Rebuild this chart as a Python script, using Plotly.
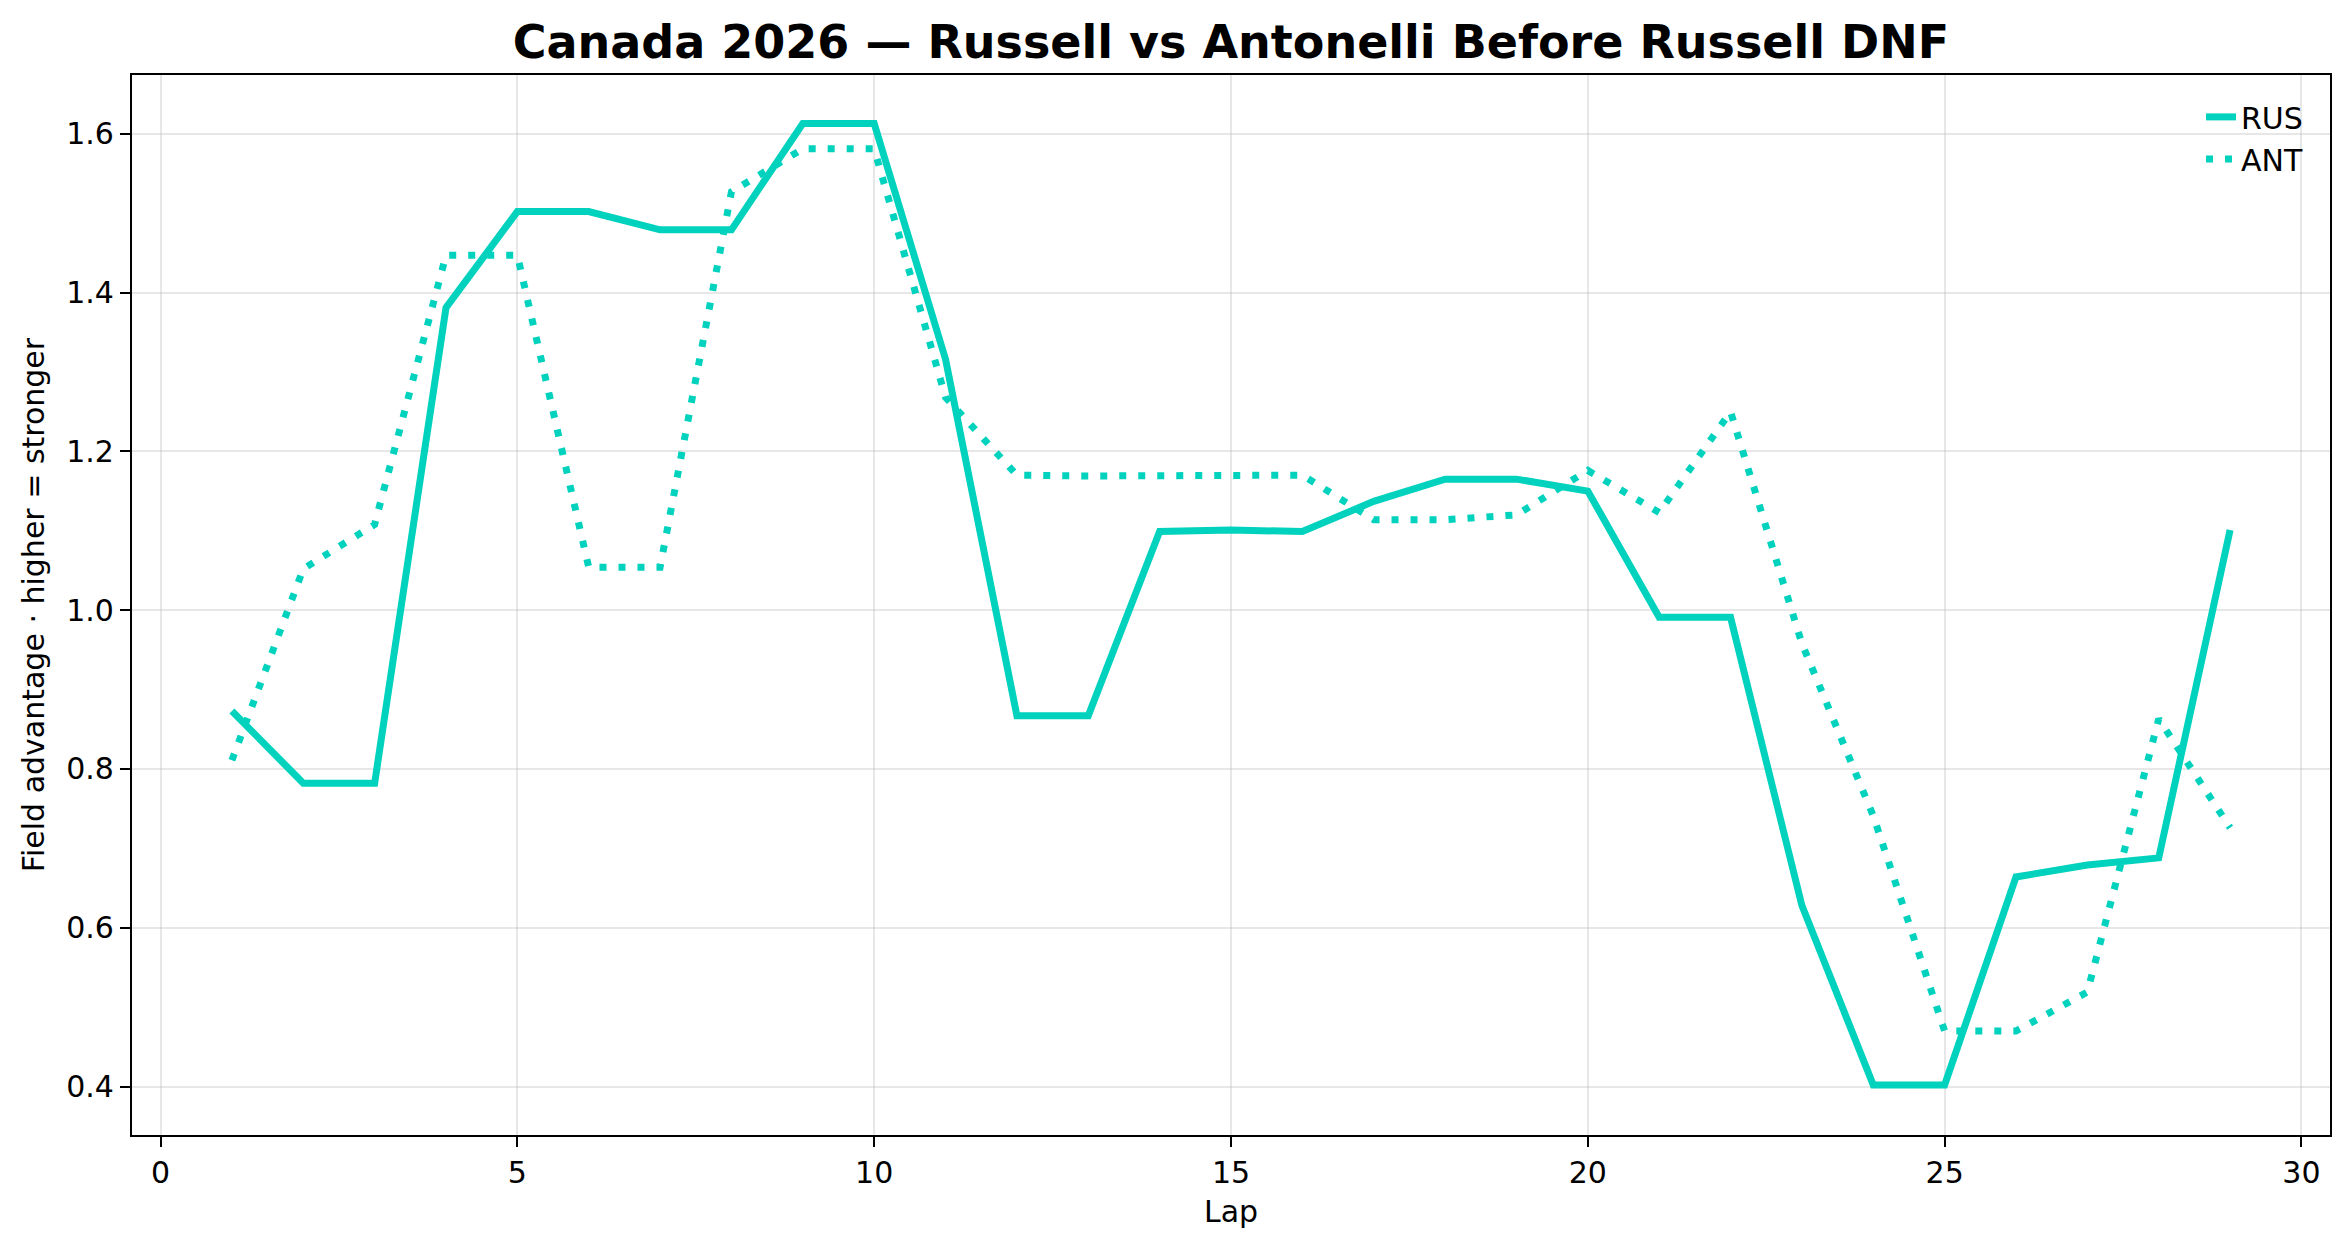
import plotly.graph_objects as go

laps = list(range(1, 30))
rus = [0.873, 0.782, 0.782, 1.381, 1.502, 1.502, 1.479, 1.479, 1.613, 1.613,
       1.316, 0.867, 0.867, 1.099, 1.101, 1.099, 1.137, 1.165, 1.165, 1.150,
       0.991, 0.991, 0.628, 0.402, 0.402, 0.664, 0.679, 0.688, 1.101]
ant = [0.811, 1.052, 1.108, 1.447, 1.447, 1.054, 1.054, 1.527, 1.581, 1.581,
       1.268, 1.170, 1.169, 1.169, 1.170, 1.170, 1.114, 1.114, 1.120, 1.176,
       1.123, 1.250, 0.958, 0.741, 0.470, 0.470, 0.519, 0.863, 0.726]
x_ticks = [0, 5, 10, 15, 20, 25, 30]
y_ticks = [0.4, 0.6, 0.8, 1.0, 1.2, 1.4, 1.6]

color = "#00D2BE"
font = "DejaVu Sans"

fig = go.Figure()
fig.add_trace(go.Scatter(x=laps, y=rus, mode="lines", name="RUS", legendgroup="a",
                         line=dict(color=color, width=7)))
fig.add_trace(go.Scatter(x=laps, y=ant, mode="lines", name="ANT", legendgroup="b",
                         line=dict(color=color, width=7, dash="7px,12px")))

axis_common = dict(showline=True, linecolor="black", linewidth=2.2, mirror=True,
                   ticks="outside", ticklen=10, tickwidth=2.2, tickcolor="black",
                   showgrid=True, gridcolor="rgba(176,176,176,0.3)", gridwidth=2,
                   zeroline=False, tickfont=dict(family=font, size=30, color="black"))

fig.update_layout(
    width=2352, height=1250,
    paper_bgcolor="white", plot_bgcolor="white",
    margin=dict(l=132, r=22, t=75, b=115),
    title=dict(text="<b>Canada 2026 — Russell vs Antonelli Before Russell DNF</b>",
               x=0.5, xref="paper", y=1 - 42 / 1250, yref="container",
               xanchor="center", yanchor="middle",
               font=dict(family=font, size=46, color="black")),
    xaxis=dict(range=[-0.4, 30.4], tickvals=x_ticks,
               title=dict(text="Lap", font=dict(family=font, size=30, color="black"), standoff=12),
               **axis_common),
    yaxis=dict(range=[0.339, 1.674], tickvals=y_ticks, tickformat=".1f",
               title=dict(text="Field advantage · higher = stronger",
                          font=dict(family=font, size=30, color="black"), standoff=13),
               **axis_common),
    legend=dict(x=0.99, y=0.985, xanchor="right", yanchor="top",
                bgcolor="rgba(0,0,0,0)", font=dict(family=font, size=30, color="black"),
                tracegroupgap=0, traceorder="grouped"),
    showlegend=True,
)

fig.write_html("out.html", config={"displayModeBar": False},
               post_script="document.body.style.margin='0px';")
